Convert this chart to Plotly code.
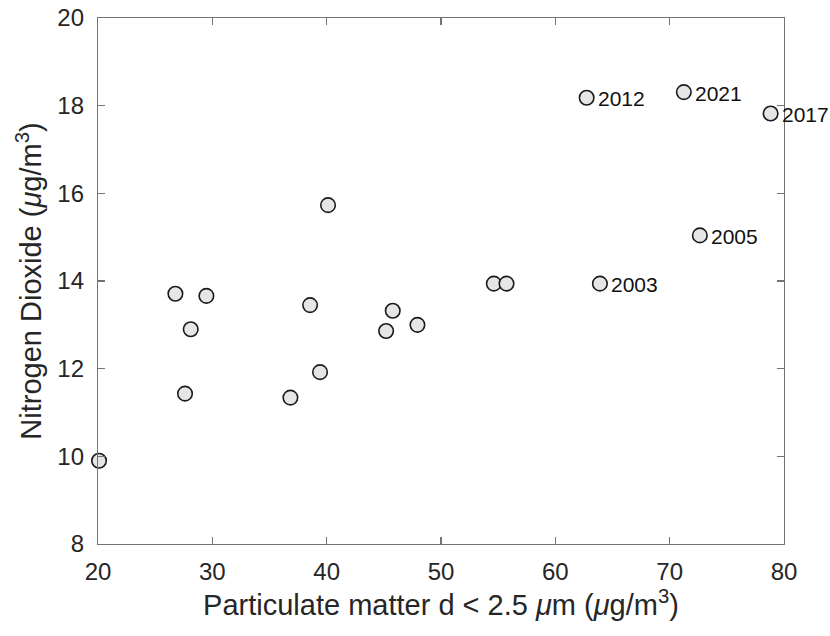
import plotly.graph_objects as go

# Data
pm25 = [20.09, 26.77, 29.48, 28.11, 27.61, 40.12, 38.55, 45.78, 45.20, 47.94,
        39.42, 36.83, 54.62, 55.73, 63.90, 62.74, 71.24, 78.83, 72.64]
no2 = [9.90, 13.71, 13.66, 12.90, 11.43, 15.73, 13.45, 13.32, 12.86, 13.00,
       11.92, 11.34, 13.94, 13.94, 13.94, 18.18, 18.31, 17.82, 15.04]
year_labels = ["", "", "", "", "", "", "", "", "", "",
               "", "", "", "", "2003", "2012", "2021", "2017", "2005"]

x_ticks = [20, 30, 40, 50, 60, 70, 80]
y_ticks = [8, 10, 12, 14, 16, 18, 20]

FONT = "Liberation Sans, Arial, Helvetica, sans-serif"
AXIS_COLOR = "#737373"
TEXT_COLOR = "#262626"

fig = go.Figure()
fig.add_trace(go.Scatter(
    x=pm25, y=no2, mode="markers",
    marker=dict(size=14.5, color="#e6e6e6", line=dict(color="#1a1a1a", width=1.6)),
    cliponaxis=False, hoverinfo="skip", showlegend=False,
))

for xv, yv, lab in zip(pm25, no2, year_labels):
    if lab:
        fig.add_annotation(x=xv, y=yv, text=lab, showarrow=False,
                           xanchor="left", yanchor="middle", xshift=9, yshift=-1,
                           font=dict(family=FONT, size=21, color="#111111"))

axis_common = dict(
    showgrid=False, zeroline=False, showline=True, mirror="ticks",
    linecolor=AXIS_COLOR, linewidth=1.2, ticks="inside", ticklen=7,
    tickcolor=AXIS_COLOR, tickwidth=1.2, automargin=False,
    tickfont=dict(family=FONT, size=24, color=TEXT_COLOR),
)

fig.update_layout(
    width=830, height=636,
    margin=dict(l=98, r=46, t=18, b=92),
    paper_bgcolor="white", plot_bgcolor="white",
    hovermode=False,
    xaxis=dict(range=[20, 80], tickvals=x_ticks, ticktext=[str(v) for v in x_ticks],
               ticklabelstandoff=6,
               title=dict(text="Particulate matter d < 2.5 <i>μ</i>m (<i>μ</i>g/m<sup>3</sup>)",
                          font=dict(family=FONT, size=29, color=TEXT_COLOR), standoff=8),
               **axis_common),
    yaxis=dict(range=[8, 20], tickvals=y_ticks, ticktext=[str(v) for v in y_ticks],
               ticklabelstandoff=8,
               title=dict(text="Nitrogen Dioxide (<i>μ</i>g/m<sup>3</sup>)",
                          font=dict(family=FONT, size=29, color=TEXT_COLOR), standoff=7),
               **axis_common),
)

fig.write_html(
    "out.html",
    config={"displayModeBar": False, "staticPlot": True},
    post_script="document.body.style.margin='0';document.body.style.overflow='hidden';",
)
